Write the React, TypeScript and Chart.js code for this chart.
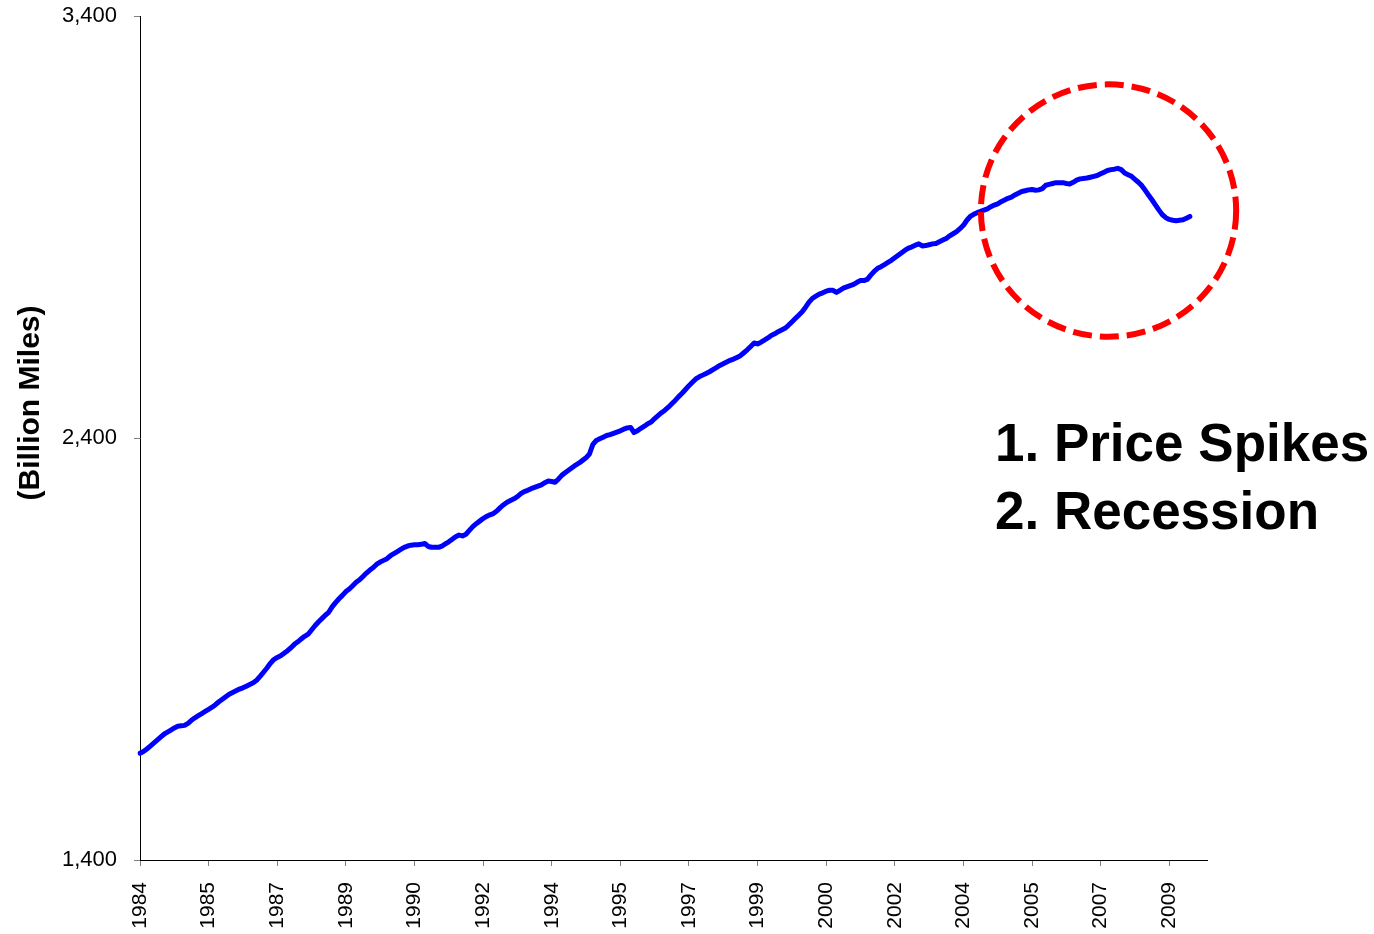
import React, { useEffect, useRef } from "react";
import { Chart, registerables } from "chart.js";

Chart.register(...registerables);

// ---- Categories (monthly, Jan 1984 – Dec 2009) ----
const YEARS = [
  1984, 1985, 1986, 1987, 1988, 1989, 1990, 1991, 1992, 1993, 1994, 1995, 1996,
  1997, 1998, 1999, 2000, 2001, 2002, 2003, 2004, 2005, 2006, 2007, 2008, 2009,
];
const MONTHS = ["01", "02", "03", "04", "05", "06", "07", "08", "09", "10", "11", "12"];
const MONTH_LABELS = YEARS.flatMap((y) => MONTHS.map((m) => `${y}-${m}`));

// ---- Series: moving 12-month total vehicle miles travelled (billion miles) ----
const VMT_1984 = [1653, 1657, 1663, 1670, 1677, 1684, 1691, 1698, 1703, 1708, 1713, 1717];
const VMT_1985 = [1718, 1719, 1724, 1731, 1737, 1742, 1747, 1752, 1757, 1762, 1768, 1775];
const VMT_1986 = [1781, 1787, 1793, 1797, 1801, 1805, 1808, 1812, 1816, 1820, 1826, 1835];
const VMT_1987 = [1845, 1855, 1866, 1875, 1880, 1884, 1890, 1896, 1903, 1911, 1917, 1924];
const VMT_1988 = [1930, 1935, 1945, 1955, 1964, 1972, 1980, 1987, 2000, 2010, 2019, 2027];
const VMT_1989 = [2036, 2042, 2050, 2058, 2064, 2072, 2080, 2087, 2093, 2101, 2106, 2110];
const VMT_1990 = [2114, 2121, 2126, 2131, 2136, 2141, 2144, 2146, 2147, 2147, 2148, 2150];
const VMT_1991 = [2143, 2141, 2141, 2141, 2144, 2149, 2154, 2160, 2166, 2170, 2168, 2172];
const VMT_1992 = [2181, 2190, 2197, 2203, 2209, 2214, 2218, 2221, 2227, 2235, 2242, 2248];
const VMT_1993 = [2252, 2256, 2261, 2268, 2273, 2276, 2280, 2283, 2286, 2289, 2294, 2298];
const VMT_1994 = [2297, 2295, 2303, 2312, 2318, 2324, 2330, 2336, 2341, 2347, 2353, 2362];
const VMT_1995 = [2385, 2394, 2398, 2402, 2406, 2408, 2411, 2414, 2417, 2421, 2424, 2425];
const VMT_1996 = [2413, 2417, 2423, 2428, 2434, 2438, 2446, 2453, 2460, 2466, 2473, 2481];
const VMT_1997 = [2489, 2498, 2506, 2515, 2524, 2532, 2540, 2545, 2549, 2553, 2557, 2562];
const VMT_1998 = [2567, 2572, 2576, 2580, 2584, 2587, 2591, 2595, 2602, 2609, 2617, 2625];
const VMT_1999 = [2623, 2627, 2632, 2637, 2643, 2647, 2652, 2656, 2660, 2667, 2675, 2683];
const VMT_2000 = [2691, 2699, 2710, 2722, 2731, 2736, 2741, 2744, 2748, 2750, 2750, 2745];
const VMT_2001 = [2750, 2755, 2758, 2761, 2764, 2769, 2773, 2773, 2776, 2786, 2795, 2802];
const VMT_2002 = [2806, 2811, 2816, 2821, 2827, 2833, 2839, 2845, 2850, 2853, 2857, 2860];
const VMT_2003 = [2855, 2856, 2858, 2860, 2861, 2865, 2869, 2873, 2879, 2884, 2889, 2896];
const VMT_2004 = [2904, 2916, 2925, 2930, 2934, 2937, 2940, 2943, 2948, 2952, 2955, 2960];
const VMT_2005 = [2964, 2968, 2971, 2976, 2980, 2984, 2986, 2988, 2989, 2987, 2988, 2991];
const VMT_2006 = [2999, 3001, 3003, 3005, 3005, 3005, 3003, 3002, 3006, 3011, 3014, 3015];
const VMT_2007 = [3016, 3018, 3020, 3022, 3026, 3030, 3034, 3036, 3037, 3039, 3036, 3028];
const VMT_2008 = [3024, 3020, 3013, 3006, 2998, 2987, 2975, 2964, 2952, 2940, 2929, 2922];
const VMT_2009 = [2918, 2916, 2915, 2916, 2917, 2921, 2925, null, null, null, null, null];

const VMT: (number | null)[] = [
  ...VMT_1984, ...VMT_1985, ...VMT_1986, ...VMT_1987, ...VMT_1988, ...VMT_1989,
  ...VMT_1990, ...VMT_1991, ...VMT_1992, ...VMT_1993, ...VMT_1994, ...VMT_1995,
  ...VMT_1996, ...VMT_1997, ...VMT_1998, ...VMT_1999, ...VMT_2000, ...VMT_2001,
  ...VMT_2002, ...VMT_2003, ...VMT_2004, ...VMT_2005, ...VMT_2006, ...VMT_2007,
  ...VMT_2008, ...VMT_2009,
];

// ---- Axis ticks ----
const Y_MIN = 1400;
const Y_MAX = 3400;
const Y_STEP = 1000;
const X_TICK_EVERY = 20; // months between labelled ticks

// ---- Annotation (in data coordinates) ----
const CIRCLE_CENTER_INDEX = 282.3;
const CIRCLE_CENTER_VALUE = 2939;
const CIRCLE_RADIUS_MONTHS = 37.2;
const CIRCLE_RADIUS_VALUE = 299;
const NOTE_LINES = ["1. Price Spikes", "2. Recession"];
const NOTE_INDEX = 249.2;
const NOTE_VALUES = [2345, 2184];
const Y_TITLE = "(Billion Miles)";

const FONT = "'Liberation Sans', Arial, Helvetica, sans-serif";

const annotationPlugin = {
  id: "vmtAnnotations",
  afterDatasetsDraw(chart: any) {
    const { ctx } = chart;
    const xs = chart.scales.x;
    const ys = chart.scales.y;
    const cx = xs.getPixelForValue(CIRCLE_CENTER_INDEX);
    const rx = xs.getPixelForValue(CIRCLE_CENTER_INDEX + CIRCLE_RADIUS_MONTHS) - cx;
    const cy = ys.getPixelForValue(CIRCLE_CENTER_VALUE);
    const ry = cy - ys.getPixelForValue(CIRCLE_CENTER_VALUE + CIRCLE_RADIUS_VALUE);
    ctx.save();
    ctx.strokeStyle = "#FF0000";
    ctx.lineWidth = 6;
    ctx.setLineDash([19, 8]);
    ctx.beginPath();
    ctx.ellipse(cx, cy, rx, ry, 0, 0, Math.PI * 2);
    ctx.stroke();
    ctx.restore();

    ctx.save();
    ctx.fillStyle = "#000";
    ctx.font = `bold 53px ${FONT}`;
    ctx.textAlign = "left";
    ctx.textBaseline = "alphabetic";
    const nx = xs.getPixelForValue(NOTE_INDEX);
    NOTE_LINES.forEach((t, i) => {
      ctx.fillText(t, nx, ys.getPixelForValue(NOTE_VALUES[i]));
    });
    ctx.restore();
  },
  afterDraw(chart: any) {
    const { ctx } = chart;
    ctx.save();
    ctx.fillStyle = "#000";
    ctx.font = `bold 30px ${FONT}`;
    ctx.textAlign = "center";
    ctx.textBaseline = "middle";
    ctx.translate(31, 403);
    ctx.rotate(-Math.PI / 2);
    ctx.fillText(Y_TITLE, 0, 0);
    ctx.restore();
  },
};

export default function App() {
  const ref = useRef<HTMLCanvasElement | null>(null);

  useEffect(() => {
    if (!ref.current) return;
    const chart = new Chart(ref.current, {
      type: "line",
      data: {
        labels: MONTH_LABELS,
        datasets: [
          {
            data: VMT,
            borderColor: "#0000FF",
            backgroundColor: "#0000FF",
            borderWidth: 5,
            pointRadius: 0,
            pointHoverRadius: 0,
            tension: 0,
            fill: false,
            borderJoinStyle: "round",
            borderCapStyle: "round",
            spanGaps: false,
          },
        ],
      },
      options: {
        responsive: false,
        animation: false,
        devicePixelRatio: 1,
        layout: { padding: { left: 0, top: 16, right: 167, bottom: 0 } },
        plugins: {
          legend: { display: false },
          tooltip: { enabled: false },
          title: { display: false },
        },
        events: [],
        scales: {
          x: {
            type: "category",
            offset: false,
            afterFit: (s: any) => {
              s.height = 74;
              s.paddingLeft = 0;
              s.paddingRight = 0;
            },
            afterBuildTicks: (s: any) => {
              s.ticks = s.ticks.filter((t: any) => t.value % X_TICK_EVERY === 0);
            },
            grid: {
              display: true,
              drawOnChartArea: false,
              drawTicks: true,
              tickLength: 6,
              tickColor: "#808080",
              tickWidth: 1,
            },
            border: { display: true, color: "#000", width: 1 },
            ticks: {
              autoSkip: false,
              minRotation: 90,
              maxRotation: 90,
              padding: 16,
              color: "#000",
              font: { family: FONT, size: 21 },
              callback: (value: any) => MONTH_LABELS[Number(value)].slice(0, 4),
            },
          },
          y: {
            type: "linear",
            min: Y_MIN,
            max: Y_MAX,
            afterFit: (s: any) => {
              s.width = 140;
              s.paddingTop = 0;
              s.paddingBottom = 0;
            },
            grid: {
              display: true,
              drawOnChartArea: false,
              drawTicks: true,
              tickLength: 6,
              tickColor: "#808080",
              tickWidth: 1,
            },
            border: { display: true, color: "#000", width: 1 },
            ticks: {
              stepSize: Y_STEP,
              padding: 17,
              color: "#000",
              font: { family: FONT, size: 22 },
              callback: (v: any) => Number(v).toLocaleString("en-US"),
            },
          },
        },
      },
      plugins: [annotationPlugin],
    });
    return () => chart.destroy();
  }, []);

  return (
    <div
      style={{
        position: "fixed",
        left: 0,
        top: 0,
        width: 1374,
        height: 934,
        background: "#fff",
      }}
    >
      <canvas ref={ref} width={1374} height={934} style={{ display: "block" }} />
    </div>
  );
}
